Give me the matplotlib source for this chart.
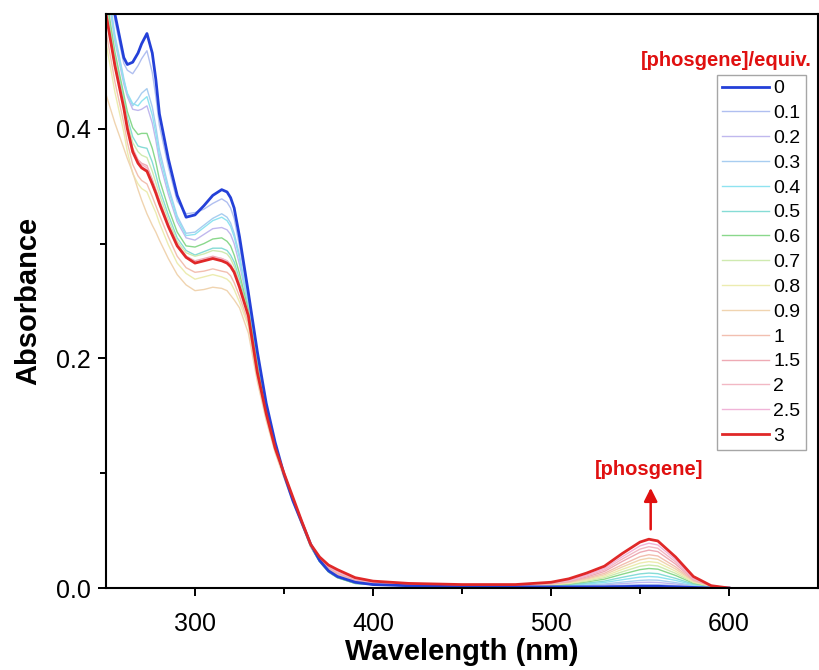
import matplotlib
matplotlib.use("Agg")
import matplotlib.pyplot as plt

plt.rcParams['font.family'] = ['Liberation Sans', 'DejaVu Sans']

# comprimento de onda (nm) comum a todas as curvas
wl = [250, 255, 260, 262, 265, 268, 270, 273, 276, 278, 280, 285, 290, 295, 300, 305, 310, 315, 318, 320, 322, 325, 330,
      335, 340, 345, 350, 355, 360, 365, 370, 375, 380, 390, 400,
      420, 450, 480, 500,
      510, 520, 530, 540, 550, 555, 560, 570, 580, 590, 600]

a_0 = [0.560, 0.500, 0.462, 0.456, 0.458, 0.466, 0.474, 0.483, 0.466, 0.443, 0.413, 0.374, 0.342, 0.323, 0.325, 0.333, 0.342, 0.347, 0.345, 0.340, 0.331, 0.306, 0.257,
       0.206, 0.161, 0.127, 0.099, 0.076, 0.057, 0.038, 0.024, 0.015, 0.010, 0.005, 0.003,
       0.002, 0.001, 0.001, 0.001,
       0.001, 0.001, 0.001, 0.0012, 0.0015, 0.0015, 0.0015, 0.001, 0.0005, 0.0, 0.0]
a_01 = [0.553, 0.494, 0.457, 0.451, 0.448, 0.455, 0.461, 0.468, 0.449, 0.428, 0.403, 0.367, 0.337, 0.326, 0.327, 0.330, 0.335, 0.339, 0.336, 0.331, 0.322, 0.298, 0.253,
        0.203, 0.159, 0.125, 0.099, 0.076, 0.057, 0.038, 0.024, 0.015, 0.010, 0.005, 0.003,
        0.002, 0.001, 0.001, 0.0012,
        0.001, 0.0015, 0.0018, 0.0024, 0.0029, 0.003, 0.0029, 0.0022, 0.0014, 0.001, 0.0]
a_02 = [0.529, 0.476, 0.439, 0.428, 0.417, 0.416, 0.417, 0.420, 0.405, 0.390, 0.372, 0.343, 0.319, 0.305, 0.303, 0.308, 0.313, 0.314, 0.312, 0.308, 0.300, 0.282, 0.246,
        0.197, 0.156, 0.124, 0.099, 0.077, 0.057, 0.037, 0.024, 0.015, 0.010, 0.005, 0.003,
        0.002, 0.001, 0.001, 0.0015,
        0.0016, 0.0021, 0.0027, 0.0038, 0.0048, 0.005, 0.0048, 0.0035, 0.0018, 0.0011, 0.0]
a_03 = [0.536, 0.482, 0.444, 0.430, 0.420, 0.426, 0.431, 0.435, 0.419, 0.402, 0.382, 0.350, 0.324, 0.309, 0.310, 0.316, 0.322, 0.326, 0.323, 0.318, 0.309, 0.290, 0.248,
        0.199, 0.157, 0.124, 0.099, 0.077, 0.057, 0.037, 0.024, 0.015, 0.010, 0.005, 0.003,
        0.002, 0.001, 0.001, 0.0018,
        0.0019, 0.0026, 0.0035, 0.0051, 0.0066, 0.007, 0.0068, 0.0047, 0.0022, 0.0012, 0.0]
a_04 = [0.532, 0.479, 0.442, 0.431, 0.422, 0.420, 0.424, 0.428, 0.412, 0.396, 0.377, 0.347, 0.322, 0.307, 0.308, 0.314, 0.320, 0.323, 0.320, 0.315, 0.306, 0.287, 0.247,
        0.198, 0.156, 0.124, 0.099, 0.077, 0.056, 0.036, 0.023, 0.014, 0.009, 0.004, 0.003,
        0.002, 0.001, 0.001, 0.002,
        0.0024, 0.0034, 0.0048, 0.0072, 0.0095, 0.010, 0.0096, 0.0066, 0.0028, 0.0013, 0.0]
a_05 = [0.510, 0.463, 0.425, 0.410, 0.393, 0.385, 0.384, 0.383, 0.371, 0.360, 0.348, 0.325, 0.305, 0.294, 0.290, 0.293, 0.296, 0.296, 0.294, 0.290, 0.284, 0.269, 0.240,
        0.192, 0.153, 0.122, 0.098, 0.077, 0.056, 0.036, 0.023, 0.014, 0.009, 0.004, 0.003,
        0.002, 0.001, 0.0012, 0.0022,
        0.0028, 0.0042, 0.0060, 0.0093, 0.0123, 0.013, 0.0125, 0.0084, 0.0034, 0.0014, 0.0]
a_06 = [0.517, 0.467, 0.430, 0.415, 0.401, 0.395, 0.396, 0.396, 0.383, 0.371, 0.356, 0.331, 0.310, 0.298, 0.297, 0.300, 0.304, 0.305, 0.302, 0.298, 0.290, 0.274, 0.242,
        0.194, 0.154, 0.123, 0.099, 0.077, 0.056, 0.036, 0.023, 0.014, 0.009, 0.004, 0.003,
        0.002, 0.001, 0.0013, 0.0025,
        0.0034, 0.0053, 0.0077, 0.0120, 0.0160, 0.017, 0.0164, 0.0109, 0.0042, 0.0015, 0.0]
a_07 = [0.506, 0.460, 0.422, 0.406, 0.388, 0.380, 0.377, 0.375, 0.363, 0.353, 0.343, 0.321, 0.302, 0.292, 0.289, 0.291, 0.294, 0.293, 0.291, 0.287, 0.280, 0.266, 0.239,
        0.190, 0.152, 0.122, 0.098, 0.077, 0.056, 0.036, 0.024, 0.015, 0.010, 0.005, 0.003,
        0.002, 0.0012, 0.0015, 0.0028,
        0.0039, 0.0061, 0.0090, 0.0141, 0.0189, 0.020, 0.0192, 0.0128, 0.0048, 0.0016, 0.0]
a_08 = [0.475, 0.432, 0.397, 0.380, 0.361, 0.352, 0.348, 0.345, 0.334, 0.327, 0.318, 0.299, 0.283, 0.274, 0.269, 0.271, 0.273, 0.271, 0.269, 0.266, 0.260, 0.249, 0.228,
        0.184, 0.149, 0.120, 0.097, 0.076, 0.056, 0.036, 0.024, 0.016, 0.011, 0.006, 0.004,
        0.002, 0.0015, 0.0018, 0.003,
        0.0043, 0.0069, 0.0102, 0.0162, 0.0217, 0.023, 0.0221, 0.0146, 0.0054, 0.0017, 0.0]
a_09 = [0.430, 0.405, 0.383, 0.374, 0.362, 0.347, 0.338, 0.326, 0.316, 0.310, 0.303, 0.287, 0.273, 0.264, 0.259, 0.260, 0.262, 0.261, 0.259, 0.255, 0.251, 0.244, 0.222,
        0.180, 0.146, 0.118, 0.096, 0.075, 0.055, 0.036, 0.025, 0.017, 0.012, 0.006, 0.004,
        0.003, 0.002, 0.002, 0.0033,
        0.0048, 0.0078, 0.0115, 0.0183, 0.0245, 0.026, 0.0250, 0.0165, 0.0060, 0.0018, 0.0]
a_1 = [0.485, 0.441, 0.405, 0.388, 0.369, 0.359, 0.355, 0.352, 0.341, 0.333, 0.325, 0.306, 0.289, 0.279, 0.275, 0.276, 0.278, 0.276, 0.275, 0.272, 0.266, 0.254, 0.231,
       0.185, 0.150, 0.121, 0.098, 0.077, 0.057, 0.037, 0.025, 0.017, 0.012, 0.007, 0.004,
       0.003, 0.002, 0.002, 0.0036,
       0.0052, 0.0086, 0.0128, 0.0203, 0.0273, 0.029, 0.0279, 0.0184, 0.0066, 0.0018, 0.0]
a_15 = [0.502, 0.457, 0.420, 0.403, 0.383, 0.373, 0.370, 0.368, 0.356, 0.347, 0.338, 0.317, 0.300, 0.289, 0.285, 0.287, 0.289, 0.287, 0.285, 0.282, 0.276, 0.264, 0.238,
        0.188, 0.151, 0.121, 0.099, 0.078, 0.057, 0.037, 0.026, 0.018, 0.013, 0.007, 0.005,
        0.003, 0.002, 0.0022, 0.004,
        0.0058, 0.0096, 0.0144, 0.0231, 0.0311, 0.033, 0.0317, 0.0208, 0.0074, 0.0020, 0.0]
a_2 = [0.501, 0.456, 0.419, 0.402, 0.382, 0.372, 0.369, 0.366, 0.355, 0.346, 0.337, 0.316, 0.299, 0.289, 0.284, 0.286, 0.288, 0.287, 0.285, 0.281, 0.275, 0.263, 0.237,
       0.188, 0.152, 0.122, 0.099, 0.078, 0.058, 0.038, 0.026, 0.019, 0.014, 0.008, 0.005,
       0.003, 0.0025, 0.0025, 0.0043,
       0.0063, 0.0105, 0.0157, 0.0252, 0.0339, 0.036, 0.0346, 0.0227, 0.0080, 0.0021, 0.0]
a_25 = [0.500, 0.455, 0.419, 0.401, 0.381, 0.371, 0.367, 0.364, 0.353, 0.345, 0.336, 0.316, 0.299, 0.288, 0.284, 0.285, 0.287, 0.286, 0.284, 0.281, 0.275, 0.263, 0.237,
        0.188, 0.152, 0.122, 0.100, 0.079, 0.058, 0.038, 0.027, 0.019, 0.015, 0.008, 0.005,
        0.0035, 0.0028, 0.0028, 0.0046,
        0.0067, 0.0113, 0.0170, 0.0272, 0.0367, 0.039, 0.0375, 0.0246, 0.0086, 0.0021, 0.0]
a_3 = [0.500, 0.455, 0.418, 0.400, 0.380, 0.370, 0.366, 0.363, 0.352, 0.344, 0.335, 0.315, 0.298, 0.288, 0.283, 0.285, 0.287, 0.285, 0.283, 0.280, 0.275, 0.262, 0.237,
       0.188, 0.152, 0.122, 0.100, 0.079, 0.058, 0.038, 0.027, 0.020, 0.016, 0.009, 0.006,
       0.004, 0.003, 0.003, 0.005,
       0.008, 0.013, 0.019, 0.030, 0.040, 0.0425, 0.041, 0.027, 0.010, 0.002, 0.0]

equiv = ['0', '0.1', '0.2', '0.3', '0.4', '0.5', '0.6', '0.7', '0.8', '0.9', '1', '1.5', '2', '2.5', '3']
series = [a_0, a_01, a_02, a_03, a_04, a_05, a_06, a_07, a_08, a_09, a_1, a_15, a_2, a_25, a_3]
cores = ['#2440d8', '#b0bff0', '#c0b8ee', '#a8cdf0', '#8fe3f0', '#86dcd6', '#8ad88c', '#cfeab0',
         '#ececb0', '#f0d4b0', '#f2bfb0', '#eeaab4', '#f2b8c4', '#f0b4d8', '#e02828']

fig = plt.figure(figsize=(8.19, 6.70), dpi=100)
ax = fig.add_axes([106/819, 82/670, 712/819, 574/670])

# curvas intermediarias primeiro, depois 0 e 3 por cima
linhas = [None]*len(series)
for i in range(1, len(series)-1):
    linhas[i], = ax.plot(wl, series[i], color=cores[i], lw=1.0, label=equiv[i])
linhas[0], = ax.plot(wl, series[0], color=cores[0], lw=2.0, label=equiv[0])
linhas[-1], = ax.plot(wl, series[-1], color=cores[-1], lw=2.0, label=equiv[-1])

ax.set_xlim(250, 650)
ax.set_ylim(0, 0.5)
ax.set_xticks([300, 400, 500, 600])
ax.set_xticks([350, 450, 550], minor=True)
ax.set_yticks([0.0, 0.2, 0.4])
ax.set_yticks([0.1, 0.3], minor=True)
ax.set_yticklabels(['0.0', '0.2', '0.4'])
ax.tick_params(which='major', direction='out', length=6, width=1.4, labelsize=18)
ax.tick_params(axis='x', which='major', pad=11)
ax.tick_params(axis='y', which='major', pad=5)
ax.tick_params(which='minor', direction='out', length=4, width=1.4)
for s in ax.spines.values():
    s.set_linewidth(1.5)

ax.set_xlabel('Wavelength (nm)', fontsize=21, fontweight='bold', labelpad=2)
ax.set_ylabel('Absorbance', fontsize=21, fontweight='bold', labelpad=10)

leg = fig.legend(linhas, equiv, loc='upper left', bbox_to_anchor=(717/819, 1-75/670),
                 fontsize=14, frameon=True, fancybox=False, borderaxespad=0,
                 handlelength=2.4, handletextpad=0.25, borderpad=0.25, labelspacing=0.37)
leg.get_frame().set_edgecolor('#909090')
leg.get_frame().set_linewidth(1.0)
fig.text(812/819, 1-61/670, '[phosgene]/equiv.', color='#e01010', fontsize=14.5,
         fontweight='bold', ha='right', va='center')

# seta indicando o aumento da banda
ax.annotate('', xy=(556, 0.0896), xytext=(556, 0.0487),
            arrowprops=dict(arrowstyle='-|>', color='#e01010', lw=1.8, mutation_scale=20))
ax.text(555, 0.103, '[phosgene]', color='#e01010', fontsize=14.5, fontweight='bold',
        ha='center', va='center')

fig.savefig('out.png', dpi=100)
